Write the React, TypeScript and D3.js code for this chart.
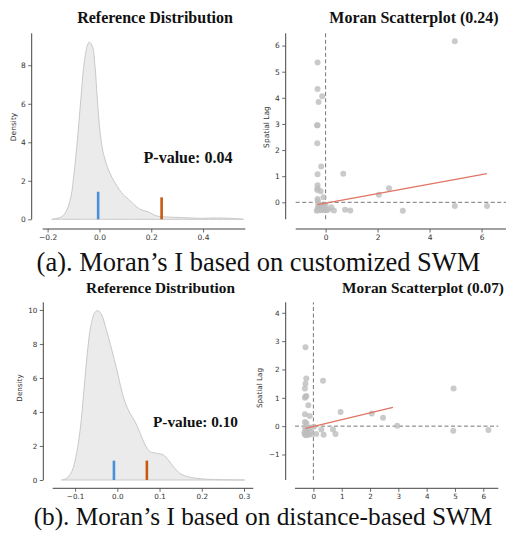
import React, { useRef, useEffect } from 'react';
import * as d3 from 'd3';

// reference distributions (kde curves)
const kdeAX = [-0.184, -0.145, -0.126, -0.11, -0.098, -0.085, -0.072, -0.059, -0.046, -0.039, -0.027, -0.017, -0.008, 0.003, 0.015, 0.035, 0.061, 0.093, 0.112, 0.131, 0.157, 0.189, 0.222, 0.26, 0.324, 0.389, 0.453, 0.505, 0.556];
const kdeAY = [0, 0.14, 0.48, 1.17, 2.39, 4.12, 6.2, 8.1, 9.05, 9.2, 8.97, 7.93, 6.2, 4.47, 3.43, 2.56, 1.87, 1.26, 1.04, 0.8, 0.52, 0.38, 0.17, 0.12, 0.09, 0.05, 0.07, 0.05, 0];
const kdeBX = [-0.132, -0.12, -0.108, -0.098, -0.088, -0.079, -0.071, -0.063, -0.053, -0.046, -0.037, -0.027, -0.013, -0.001, 0.01, 0.018, 0.03, 0.042, 0.054, 0.066, 0.077, 0.093, 0.109, 0.121, 0.133, 0.148, 0.172, 0.204, 0.243, 0.302];
const kdeBY = [0, 0.1, 0.49, 1.37, 2.94, 5.29, 7.45, 9.02, 9.86, 9.96, 9.7, 8.92, 7.65, 6.47, 5.29, 4.6, 3.92, 3.43, 2.75, 2.06, 1.67, 1.57, 1.47, 1.18, 0.78, 0.39, 0.16, 0.06, 0.02, 0];

// [expected I, observed I] and their marker heights
const markA = [-0.005, 0.24];
const markAH = [1.43, 1.14];
const markB = [-0.008, 0.07];
const markBH = [1.14, 1.14];

// moran scatter points
const scatAX = [-0.31, -0.31, -0.27, -0.13, -0.33, -0.31, -0.32, -0.17, -0.31, 0.68, -0.31, -0.31, -0.32, -0.19, -0.08, -0.31, 2.05, 2.44, 2.97, 4.97, 4.97, 6.21, 0.22, 0.32, 0.75, 0.95, 0.1, -0.3, -0.28, -0.25, -0.3, -0.3, -0.2, -0.15, -0.1, -0.05, 0, -0.22, 0.02, -0.12, -0.34];
const scatAY = [5.35, 4.34, 3.84, 4.06, 2.95, 2.95, 2.26, 1.37, 1.07, 1.09, 0.65, 0.54, 0.47, 0.42, 0.19, 0.13, 0.29, 0.54, -0.32, 6.17, -0.14, -0.14, -0.19, -0.31, -0.28, -0.31, -0.28, 0.05, -0.05, -0.15, -0.2, -0.28, -0.3, -0.25, -0.3, -0.2, -0.1, -0.1, -0.3, -0.12, -0.32];
const scatBX = [-0.28, -0.25, -0.28, -0.3, -0.28, -0.25, -0.3, -0.18, -0.3, -0.13, -0.3, -0.25, 0.34, 0.96, 2.06, 2.46, 2.96, 4.95, 4.94, 6.18, 0.1, 0.28, 0.36, 0.69, 0.78, 0.02, -0.3, -0.27, -0.22, -0.3, -0.2, -0.15, -0.1, -0.05, -0.32, -0.12, -0.25];
const scatBY = [2.78, 1.68, 1.5, 1.33, 1.04, 1.06, 1.0, 0.74, 0.42, 0.36, 0.15, 0.1, 1.6, 0.5, 0.45, 0.3, 0.01, 1.33, -0.16, -0.14, -0.28, -0.12, -0.3, -0.12, -0.28, -0.02, -0.05, -0.15, -0.25, -0.3, -0.1, -0.3, -0.2, -0.28, -0.22, -0.05, -0.32];

// regression line endpoints [x0, x1], [y0, y1]
const fitAX = [-0.31, 6.21];
const fitAY = [-0.09, 1.1];
const fitBX = [-0.28, 2.81];
const fitBY = [-0.08, 0.66];

const ticksKdeAX = [-0.2, 0, 0.2, 0.4];
const ticksKdeAY = [0, 2, 4, 6, 8];
const ticksKdeBX = [-0.1, 0, 0.1, 0.2, 0.3];
const ticksKdeBY = [0, 2, 4, 6, 8, 10];
const ticksScatAX = [0, 2, 4, 6];
const ticksScatAY = [0, 1, 2, 3, 4, 5, 6];
const ticksScatBX = [0, 1, 2, 3, 4, 5, 6];
const ticksScatBY = [-1, 0, 1, 2, 3, 4];

const titles = ['Reference Distribution', 'Moran Scatterplot (0.24)', 'Reference Distribution', 'Moran Scatterplot (0.07)'];
const pvalues = ['P-value: 0.04', 'P-value: 0.10'];
const captions = ['(a). Moran\u2019s I based on customized SWM', '(b). Moran\u2019s I based on distance-based SWM'];

const TICK_FONT = 'DejaVu Sans, sans-serif';
const SERIF = 'Liberation Serif, Times New Roman, serif';
const AXIS_COL = '#444';

const App = () => {
    const svgRef = useRef();

    useEffect(() => {
        const svg = d3.select(svgRef.current);
        svg.selectAll('*').remove();

        // draw offset spines + ticks like seaborn despine(offset=10)
        const drawAxes = (g, x, y, xTicks, yTicks, xAxisY, yAxisX, fmtX, fs) => {
            const xa = g.append('g').attr('transform', `translate(0,${xAxisY})`)
                .call(d3.axisBottom(x).tickValues(xTicks).tickFormat(fmtX).tickSize(3.5).tickPadding(2.5));
            const ya = g.append('g').attr('transform', `translate(${yAxisX},0)`)
                .call(d3.axisLeft(y).tickValues(yTicks).tickFormat(d3.format('d')).tickSize(3.5).tickPadding(2.5));
            [xa, ya].forEach(a => {
                a.select('.domain').attr('stroke', AXIS_COL).attr('stroke-width', 1);
                a.selectAll('.tick line').attr('stroke', AXIS_COL).attr('stroke-width', 0.8);
                a.selectAll('.tick text').attr('fill', '#333').style('font-family', TICK_FONT).style('font-size', fs + 'px');
            });
            // straight spines without end caps
            xa.select('.domain').attr('d', `M${x.range()[0]},0H${x.range()[1]}`);
            ya.select('.domain').attr('d', `M0,${y.range()[0]}V${y.range()[1]}`);
        };

        const ylabel = (text, cx, cy, fs) => {
            svg.append('text')
               .attr('transform', `translate(${cx},${cy}) rotate(-90)`)
               .attr('text-anchor', 'middle')
               .attr('dominant-baseline', 'middle')
               .style('font-family', TICK_FONT)
               .style('font-size', fs + 'px')
               .attr('fill', '#333')
               .text(text);
        };

        const title = (text, cx, by, fs) => {
            svg.append('text')
               .attr('x', cx).attr('y', by)
               .attr('text-anchor', 'middle')
               .style('font-family', SERIF)
               .style('font-weight', 'bold')
               .style('font-size', fs + 'px')
               .attr('fill', '#111')
               .text(text);
        };

        const kdePanel = (xs, ys, marks, markH, x, y, xTicks, yTicks, xAxisY, yAxisX, fs) => {
            const g = svg.append('g');
            const pts = xs.map((v, i) => [v, ys[i]]);
            g.append('path')
             .datum(pts)
             .attr('d', d3.area().x(d => x(d[0])).y0(y(0)).y1(d => y(d[1])).curve(d3.curveCatmullRom.alpha(0.5)))
             .attr('fill', '#ebebeb')
             .attr('stroke', '#c9c9c9')
             .attr('stroke-width', 1);
            const cols = ['#4a90d9', '#c65a11'];
            g.selectAll('.mark')
             .data(marks)
             .join('line')
             .attr('x1', d => x(d)).attr('x2', d => x(d))
             .attr('y1', y(0)).attr('y2', (d, i) => y(markH[i]))
             .attr('stroke', (d, i) => cols[i])
             .attr('stroke-width', 2.6);
            drawAxes(g, x, y, xTicks, yTicks, xAxisY, yAxisX, d3.format('.1f'), fs);
        };

        const scatPanel = (xs, ys, fx, fy, x, y, xTicks, yTicks, xAxisY, yAxisX, fs) => {
            const g = svg.append('g');
            const [x0, x1] = x.range();
            const [y0, y1] = y.range();
            g.append('line').attr('x1', x(0)).attr('x2', x(0)).attr('y1', y0).attr('y2', y1)
             .attr('stroke', '#777').attr('stroke-width', 1).attr('stroke-dasharray', '4,2.5');
            g.append('line').attr('x1', x0).attr('x2', x1).attr('y1', y(0)).attr('y2', y(0))
             .attr('stroke', '#777').attr('stroke-width', 1).attr('stroke-dasharray', '4,2.5');
            g.selectAll('circle')
             .data(xs.map((v, i) => [v, ys[i]]))
             .join('circle')
             .attr('cx', d => x(d[0]))
             .attr('cy', d => y(d[1]))
             .attr('r', 3)
             .attr('fill', '#bdbdbd')
             .attr('fill-opacity', 0.8);
            g.append('line')
             .attr('x1', x(fx[0])).attr('y1', y(fy[0]))
             .attr('x2', x(fx[1])).attr('y2', y(fy[1]))
             .attr('stroke', '#e07464').attr('stroke-width', 1.3);
            drawAxes(g, x, y, xTicks, yTicks, xAxisY, yAxisX, d3.format('d'), fs);
        };

        // panel (a)
        const xA = d3.scaleLinear().domain([-0.219, 0.563]).range([42.7, 245.3]);
        const yA = d3.scaleLinear().domain([0, 9.66]).range([219.3, 33.3]);
        kdePanel(kdeAX, kdeAY, markA, markAH, xA, yA, ticksKdeAX, ticksKdeAY, 229, 31.7, 7.5);
        ylabel('Density', 14, 127, 7.5);
        title(titles[0], 155, 22.7, 16);
        svg.append('text').attr('x', 188).attr('y', 162.7).attr('text-anchor', 'middle')
           .style('font-family', SERIF).style('font-weight', 'bold').style('font-size', '16px')
           .attr('fill', '#111').text(pvalues[0]);

        const sxA = d3.scaleLinear().domain([-1.15, 6.94]).range([295.7, 506]);
        const syA = d3.scaleLinear().domain([-0.65, 6.47]).range([219.3, 33.3]);
        scatPanel(scatAX, scatAY, fitAX, fitAY, sxA, syA, ticksScatAX, ticksScatAY, 229, 285.7, 7.5);
        ylabel('Spatial Lag', 267, 127, 7.5);
        title(titles[1], 414, 22.7, 16);

        // panel (b)
        const xB = d3.scaleLinear().domain([-0.153, 0.322]).range([52.7, 253.3]);
        const yB = d3.scaleLinear().domain([0, 10.45]).range([480, 302.3]);
        kdePanel(kdeBX, kdeBY, markB, markBH, xB, yB, ticksKdeBX, ticksKdeBY, 488.3, 43.3, 7.2);
        ylabel('Density', 20, 388, 7.2);
        title(titles[2], 160.5, 292.7, 15.3);
        svg.append('text').attr('x', 195.5).attr('y', 426.7).attr('text-anchor', 'middle')
           .style('font-family', SERIF).style('font-weight', 'bold').style('font-size', '15.3px')
           .attr('fill', '#111').text(pvalues[1]);

        const sxB = d3.scaleLinear().domain([-0.65, 6.53]).range([295, 498.3]);
        const syB = d3.scaleLinear().domain([-1.9, 4.37]).range([480, 302.3]);
        scatPanel(scatBX, scatBY, fitBX, fitBY, sxB, syB, ticksScatBX, ticksScatBY, 488.3, 285.7, 7.2);
        ylabel('Spatial Lag', 260, 388, 7.2);
        title(titles[3], 423, 292.7, 15.3);

        // captions
        svg.append('text').attr('x', 258.5).attr('y', 271).attr('text-anchor', 'middle')
           .style('font-family', SERIF).style('font-size', '26.5px').attr('fill', '#111').text(captions[0]);
        svg.append('text').attr('x', 263).attr('y', 525).attr('text-anchor', 'middle')
           .style('font-family', SERIF).style('font-size', '25.3px').attr('fill', '#111').text(captions[1]);
    }, []);

    return (
        <div style={{ position: 'absolute', left: 0, top: 0, background: '#fff' }}>
            <svg ref={svgRef} width={506} height={533} style={{ display: 'block' }}></svg>
        </div>
    );
};

export default App;
